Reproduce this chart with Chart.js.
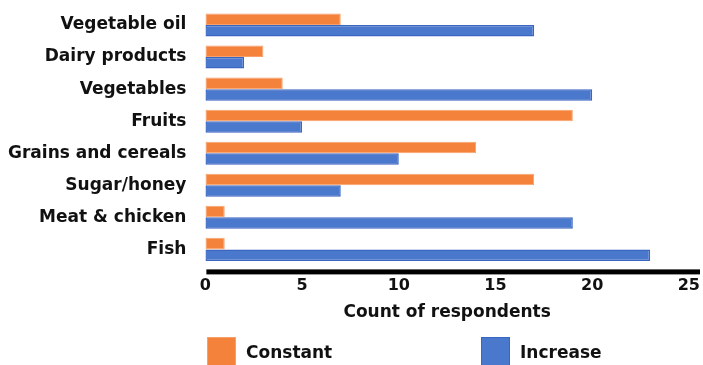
<!DOCTYPE html>
<html>
<head>
<meta charset="utf-8">
<script src="https://cdn.jsdelivr.net/npm/chart.js@4"></script>
<style>
  html, body { margin: 0; padding: 0; background: #fff; }
  #wrap { position: relative; width: 703px; height: 365px; overflow: hidden; }
  #legend { position: absolute; top: 337px; left: 0; width: 703px; height: 40px;
            font-family: "DejaVu Sans", sans-serif; font-weight: 700; font-size: 17px; color: #111; }
  .item { position: absolute; top: 0; display: flex; align-items: flex-start; }
  .sw { width: 29px; height: 29px; margin-right: 10px; box-sizing: border-box; }
  .lbl { line-height: 31px; }
</style>
</head>
<body>
<div id="wrap">
  <canvas id="c" width="703" height="365"></canvas>
  <div id="legend">
    <div class="item" style="left:207px"><div class="sw" style="background:#f5823a;border:1px solid #f7a06a"></div><span class="lbl">Constant</span></div>
    <div class="item" style="left:481px"><div class="sw" style="background:#4a78cc;border:1.5px solid #3a66c2"></div><span class="lbl">Increase</span></div>
  </div>
</div>
<script>
// Food groups, top to bottom
const categories = ['Vegetable oil', 'Dairy products', 'Vegetables', 'Fruits',
                    'Grains and cereals', 'Sugar/honey', 'Meat & chicken', 'Fish'];
// Number of respondents per answer
const constantCounts = [7, 3, 4, 19, 14, 17, 1, 1];
const increaseCounts = [17, 2, 20, 5, 10, 7, 19, 23];
const xTicks = [0, 5, 10, 15, 20, 25];

const FONT = '"DejaVu Sans", sans-serif';

// Heavy baseline under the bars, running out to the right edge
const baseline = {
  id: 'baseline',
  afterDatasetsDraw(chart) {
    const { ctx, chartArea } = chart;
    ctx.save();
    ctx.fillStyle = '#000';
    ctx.fillRect(chartArea.left + 1, chartArea.bottom + 4, chart.width - chartArea.left - 4, 5);
    ctx.restore();
  }
};

new Chart(document.getElementById('c'), {
  type: 'bar',
  data: {
    labels: categories,
    datasets: [
      { label: 'Constant', data: constantCounts, backgroundColor: '#f5823a',
        borderColor: '#f7a06a', borderWidth: 1, borderSkipped: false },
      { label: 'Increase', data: increaseCounts, backgroundColor: '#4a78cc',
        borderColor: '#3a66c2', borderWidth: 1.5, borderSkipped: false }
    ]
  },
  options: {
    indexAxis: 'y',
    responsive: false,
    animation: false,
    layout: { padding: { top: 9, right: 12, bottom: 42, left: 6 } },
    plugins: { legend: { display: false }, tooltip: { enabled: false } },
    datasets: { bar: { categoryPercentage: 0.72, barPercentage: 1.0 } },
    scales: {
      x: {
        min: 0, max: 25,
        afterBuildTicks(axis) { axis.ticks = xTicks.map(v => ({ value: v })); },
        grid: { display: false, drawTicks: true, tickLength: 8 },
        border: { display: false },
        ticks: { color: '#111', padding: 3, maxRotation: 0, font: { family: FONT, size: 16, weight: 700 } },
        title: { display: true, text: 'Count of respondents', color: '#111', padding: { top: 4, bottom: 0 },
                 font: { family: FONT, size: 17, weight: 700 } }
      },
      y: {
        afterFit(axis) { axis.paddingTop = 0; axis.paddingBottom = 0; },
        grid: { display: false, drawTicks: true, tickLength: 17 },
        border: { display: false },
        ticks: { color: '#111', padding: 2, font: { family: FONT, size: 17, weight: 700 } }
      }
    }
  },
  plugins: [baseline]
});
</script>
</body>
</html>
